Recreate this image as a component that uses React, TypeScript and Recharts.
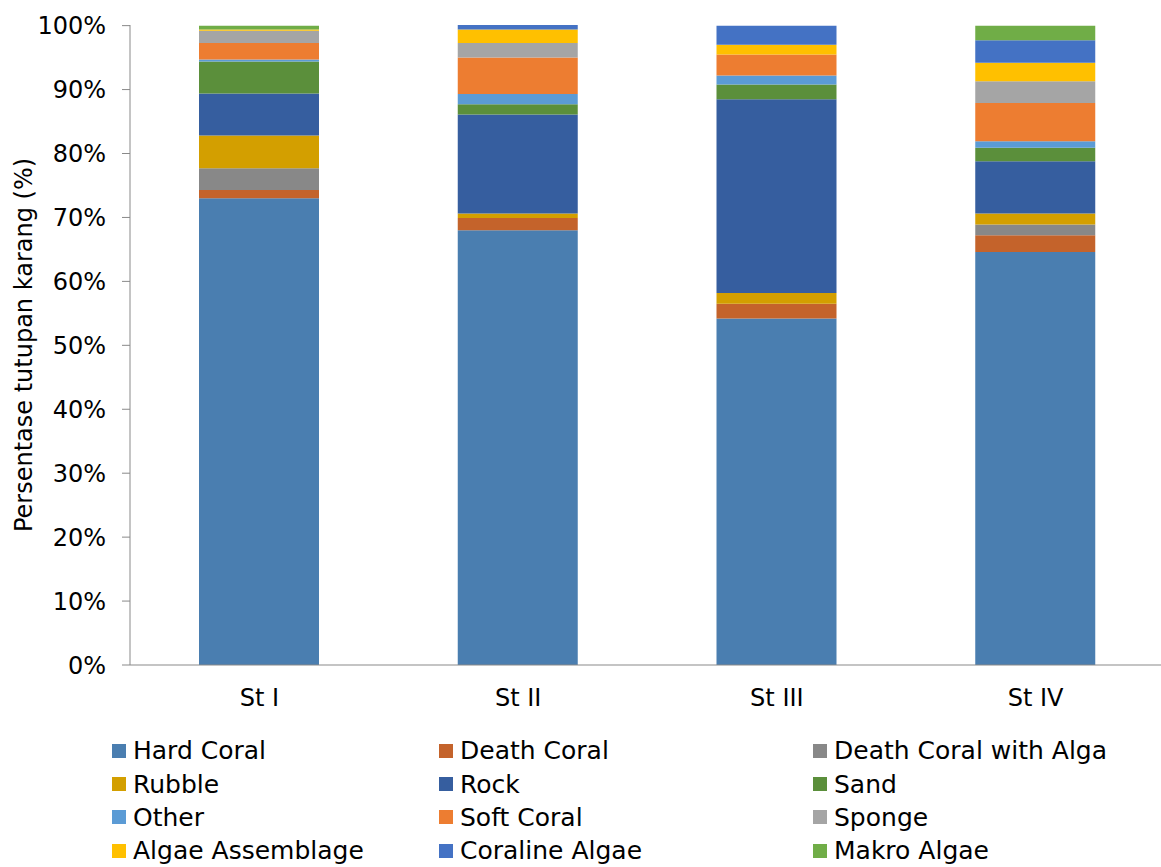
import React from "react";
import { BarChart, Bar, XAxis, YAxis, Legend } from "recharts";

const stations = ["St I", "St II", "St III", "St IV"];

// cover per station, in percent (bottom to top of each stack)
const hardCoral = [73.0, 68.0, 54.2, 64.6];
const deathCoral = [1.3, 1.9, 2.3, 2.6];
const deathCoralAlga = [3.4, 0, 0, 1.7];
const rubble = [5.1, 0.7, 1.7, 1.7];
const rock = [6.6, 15.5, 30.3, 8.2];
const sand = [5.0, 1.6, 2.3, 2.1];
const other = [0.3, 1.6, 1.4, 1.0];
const softCoral = [2.6, 5.7, 3.3, 6.0];
const sponge = [1.9, 2.3, 0, 3.4];
const algaeAssemblage = [0.2, 2.1, 1.5, 2.9];
const corallineAlgae = [0, 0.7, 3.0, 3.5];
const makroAlgae = [0.6, 0, 0, 2.3];

const yTicks = [0, 10, 20, 30, 40, 50, 60, 70, 80, 90, 100];

const series = [
  { key: "hardCoral", name: "Hard Coral", values: hardCoral, color: "#4A7EB0" },
  { key: "deathCoral", name: "Death Coral", values: deathCoral, color: "#C4632B" },
  { key: "deathCoralAlga", name: "Death Coral with Alga", values: deathCoralAlga, color: "#888888" },
  { key: "rubble", name: "Rubble", values: rubble, color: "#D39F00" },
  { key: "rock", name: "Rock", values: rock, color: "#365E9F" },
  { key: "sand", name: "Sand", values: sand, color: "#5B8F3B" },
  { key: "other", name: "Other", values: other, color: "#5B9BD5" },
  { key: "softCoral", name: "Soft Coral", values: softCoral, color: "#ED7D31" },
  { key: "sponge", name: "Sponge", values: sponge, color: "#A5A5A5" },
  { key: "algaeAssemblage", name: "Algae Assemblage", values: algaeAssemblage, color: "#FFC000" },
  { key: "corallineAlgae", name: "Coraline Algae", values: corallineAlgae, color: "#4472C4" },
  { key: "makroAlgae", name: "Makro Algae", values: makroAlgae, color: "#70AD47" },
];

const data = stations.map((st, i) => {
  const row: Record<string, string | number> = { station: st };
  series.forEach((s) => (row[s.key] = s.values[i]));
  return row;
});

const FONT = "'DejaVu Sans', sans-serif";
const AXIS = "#898989";

// three legend columns, filled row by row
const legendCols = [112, 439, 813];

function LegendGrid() {
  return (
    <div style={{ position: "relative", height: 134, width: 1161, fontFamily: FONT }}>
      {series.map((s, i) => {
        const col = i % 3;
        const row = Math.floor(i / 3);
        return (
          <div
            key={s.key}
            style={{
              position: "absolute",
              left: legendCols[col],
              top: 1 + row * 33.4,
              height: 33.4,
              display: "flex",
              alignItems: "center",
              fontSize: 25,
              color: "#000",
              whiteSpace: "nowrap",
            }}
          >
            <span style={{ width: 14, height: 14, background: s.color, marginRight: 7 }} />
            {s.name}
          </div>
        );
      })}
    </div>
  );
}

export default function App() {
  return (
    <div style={{ width: 1161, height: 867, overflow: "hidden", background: "#fff" }}>
      <style>{`body{margin:0}`}</style>
      <BarChart
        width={1165}
        height={867}
        data={data}
        margin={{ top: 25, right: 0, bottom: 0, left: 0 }}
        barSize={120}
      >
        <XAxis
          dataKey="station"
          height={68}
          tickLine={false}
          tickSize={0}
          tickMargin={24}
          axisLine={{ stroke: AXIS }}
          tick={{ fill: "#000", fontSize: 24, fontFamily: FONT }}
        />
        <YAxis
          width={130}
          domain={[0, 100]}
          ticks={yTicks}
          interval={0}
          tickSize={8}
          tickMargin={16}
          tickFormatter={(v: number) => `${v}%`}
          axisLine={{ stroke: AXIS }}
          tickLine={{ stroke: AXIS }}
          tick={{ fill: "#000", fontSize: 24, fontFamily: FONT }}
          label={{
            value: "Persentase tutupan karang (%)",
            angle: -90,
            position: "insideLeft",
            offset: 23,
            style: { textAnchor: "middle", fill: "#000", fontSize: 24, fontFamily: FONT },
          }}
        />
        <Legend verticalAlign="bottom" align="left" content={() => <LegendGrid />} />
        {series.map((s) => (
          <Bar
            key={s.key}
            dataKey={s.key}
            name={s.name}
            stackId="cover"
            fill={s.color}
            isAnimationActive={false}
          />
        ))}
      </BarChart>
    </div>
  );
}
